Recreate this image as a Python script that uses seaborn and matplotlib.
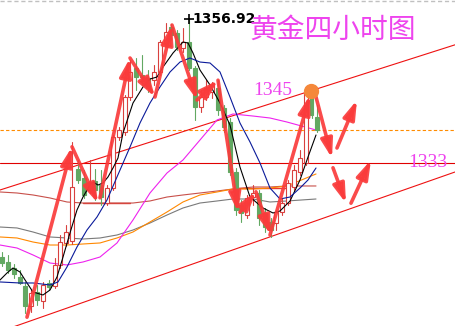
import matplotlib
matplotlib.use("Agg")
import matplotlib.pyplot as plt
from matplotlib.patches import Rectangle, FancyArrowPatch, ArrowStyle
import seaborn as sns
import pandas as pd

# ---- 4-hour gold candles (price) ----
opens = [1317.3, 1316.5, 1315.5, 1314.0, 1312.5, 1309.2, 1311.5, 1310.0, 1313.0, 1312.5,
         1316.0, 1319.7, 1320.0, 1332.0, 1330.5, 1328.5, 1330.0, 1329.3, 1326.3, 1328.8,
         1337.3, 1338.2, 1344.0, 1348.8, 1347.7, 1347.2, 1346.8, 1348.2, 1353.0, 1355.7,
         1354.7, 1352.2, 1353.2, 1348.8, 1342.3, 1344.0, 1344.8, 1345.5, 1342.2, 1339.8,
         1331.5, 1326.0, 1324.3, 1327.3, 1328.0, 1324.7, 1323.2, 1323.0, 1324.8, 1326.3,
         1329.0, 1331.5, 1333.0, 1344.0, 1340.7]
highs = [1318.2, 1317.7, 1316.2, 1315.2, 1313.2, 1311.8, 1312.7, 1313.2, 1313.5, 1317.2,
         1321.0, 1322.7, 1336.5, 1333.5, 1331.8, 1333.5, 1332.0, 1331.8, 1329.3, 1337.7,
         1339.0, 1344.3, 1350.2, 1350.5, 1351.0, 1348.5, 1349.3, 1353.5, 1356.3, 1356.2,
         1355.2, 1355.5, 1356.92, 1349.2, 1345.2, 1346.8, 1346.5, 1346.8, 1342.7, 1340.5,
         1332.2, 1326.8, 1327.7, 1329.3, 1328.5, 1325.5, 1323.8, 1325.2, 1327.2, 1330.2,
         1332.7, 1335.2, 1345.3, 1344.8, 1342.7]
lows = [1315.8, 1314.7, 1313.8, 1312.8, 1308.0, 1308.2, 1309.3, 1308.8, 1311.8, 1312.2,
        1315.5, 1319.2, 1319.5, 1329.7, 1327.2, 1328.0, 1326.8, 1326.0, 1326.0, 1328.5,
        1336.8, 1337.7, 1343.5, 1345.2, 1346.0, 1344.8, 1346.0, 1347.7, 1352.7, 1353.5,
        1351.8, 1351.5, 1348.5, 1340.2, 1341.5, 1343.5, 1343.8, 1341.0, 1338.2, 1331.0,
        1324.3, 1323.2, 1323.8, 1326.0, 1322.7, 1321.5, 1320.7, 1321.8, 1324.3, 1326.0,
        1328.5, 1331.0, 1332.7, 1340.5, 1338.2]
closes = [1316.3, 1315.2, 1314.5, 1313.0, 1309.2, 1311.3, 1310.2, 1312.7, 1312.3, 1316.0,
          1319.8, 1321.5, 1329.0, 1330.2, 1327.7, 1329.7, 1328.5, 1327.3, 1328.8, 1337.3,
          1338.5, 1344.0, 1348.2, 1347.3, 1347.3, 1345.5, 1348.2, 1353.2, 1354.8, 1354.3,
          1352.3, 1353.2, 1348.8, 1342.3, 1344.0, 1345.5, 1346.0, 1341.8, 1339.0, 1331.5,
          1325.2, 1324.7, 1327.2, 1328.0, 1323.8, 1322.3, 1321.8, 1324.8, 1326.3, 1329.7,
          1331.8, 1333.8, 1344.8, 1341.0, 1338.5]

# ---- moving averages (bar position, price) ----
ma_fast_x = [-0.34, 0.86, 1.88, 3.08, 4.28, 5.31, 7.02, 8.22, 9.42, 10.45, 11.64, 12.84,
             13.87, 15.07, 15.58, 16.44, 17.29, 18.15, 19.01, 19.86, 20.72, 22.43, 24.14,
             25.34, 26.54, 27.57, 29.28, 30.99, 31.85, 32.71, 33.90, 35.62, 37.33, 39.04,
             40.75, 42.47, 44.69, 46.40, 47.60, 49.32, 51.03, 52.40, 53.77]
ma_fast_y = [1313.5, 1314.67, 1315.5, 1314.83, 1313.0, 1311.5, 1311.0, 1311.83, 1314.0,
             1317.33, 1321.33, 1325.17, 1327.33, 1329.33, 1329.83, 1329.33, 1329.67, 1330.67,
             1332.17, 1333.83, 1338.0, 1343.0, 1345.67, 1347.0, 1347.33, 1349.0, 1351.33,
             1353.17, 1353.0, 1351.33, 1348.5, 1346.0, 1343.0, 1339.33, 1332.33, 1327.33,
             1325.5, 1324.67, 1325.0, 1326.67, 1330.17, 1334.0, 1337.67]

ma_mid_x = [-0.34, 3.08, 5.31, 8.22, 9.59, 11.13, 12.84, 14.55, 16.27, 17.98, 19.69, 21.92,
            23.63, 25.34, 27.05, 28.77, 30.48, 32.19, 33.90, 35.62, 37.33, 39.04, 40.75,
            42.47, 44.18, 45.89, 47.60, 49.32, 51.03, 52.40, 53.77]
ma_mid_y = [1313.17, 1313.0, 1313.0, 1312.67, 1313.17, 1315.67, 1319.0, 1321.83, 1324.0,
            1326.83, 1330.67, 1335.67, 1339.67, 1343.0, 1345.67, 1348.17, 1349.83, 1350.5,
            1349.83, 1349.67, 1348.17, 1344.0, 1339.67, 1336.5, 1333.0, 1328.83, 1327.0,
            1327.33, 1328.83, 1330.17, 1332.17]

slow_x = [-0.34, 2.57, 5.31, 8.22, 11.13, 13.87, 16.78, 19.69, 22.43, 25.34, 28.25, 30.99,
          33.90, 36.82, 39.55, 42.98, 45.89, 48.80, 53.77]
ma_magenta = [1319.33, 1318.83, 1317.67, 1316.33, 1316.0, 1316.5, 1317.33, 1319.67, 1323.5,
              1328.0, 1331.33, 1333.5, 1336.83, 1340.17, 1341.17, 1340.83, 1340.5, 1339.83,
              1338.5]
ma_orange = [1320.67, 1320.5, 1319.83, 1319.33, 1319.33, 1319.5, 1319.67, 1320.5, 1321.5,
             1323.17, 1324.83, 1326.5, 1327.67, 1328.17, 1328.67, 1328.67, 1328.83, 1329.17,
             1331.17]
ma_gray = [1322.33, 1322.17, 1321.5, 1320.67, 1320.5, 1320.33, 1320.5, 1321.0, 1321.83,
           1323.0, 1324.33, 1325.5, 1326.33, 1326.67, 1327.0, 1327.0, 1326.5, 1326.67, 1327.0]
ma_brown = [1328.17, 1328.0, 1327.67, 1327.17, 1326.5, 1326.33, 1326.33, 1326.33, 1326.33,
            1326.67, 1327.33, 1327.67, 1328.0, 1328.33, 1328.67, 1329.0, 1329.0, 1329.17,
            1329.17]

# ---- levels and trend channel ----
key_level = 1333
dashed_level = 1338.5
resistance = 1345
peak_high = 1356.92
support_segments = [(13.87, 21.92, 1326.33), (40.24, 48.97, 1328.83)]
channel_x = [-0.34, 77.57]
channel_upper = [1328.5, 1352.7]
channel_lower = [1304.9, 1331.5]

# ---- wave arrows: (bar0, price0, bar1, price1) ----
arrows = [
    (4.28, 1307.3, 11.99, 1335.7), (11.99, 1335.7, 16.44, 1326.3),
    (16.78, 1327.2, 21.92, 1350.5), (21.92, 1350.5, 26.2, 1344.0),
    (26.2, 1344.0, 29.11, 1356.0), (29.11, 1356.0, 33.39, 1343.5),
    (33.39, 1343.5, 36.99, 1346.8), (36.99, 1346.8, 40.41, 1324.8),
    (40.75, 1324.8, 43.49, 1328.2), (43.49, 1328.2, 46.06, 1321.0),
    (45.89, 1321.0, 52.74, 1344.3), (53.77, 1344.0, 56.51, 1333.8),
    (57.36, 1335.5, 60.79, 1343.5), (56.68, 1332.2, 58.9, 1326.3),
    (59.76, 1326.3, 63.18, 1333.5),
]

title = "黄金四小时图"

sns.set_theme(style="white")
plt.rcParams["font.family"] = ["Noto Sans CJK SC", "DejaVu Sans"]

fig = plt.figure(figsize=(4.55, 3.26), dpi=100)
ax = fig.add_axes([0, 0, 1, 1])
ax.set_xlim(-0.342, 77.57)
ax.set_ylim(1305.83, 1360.17)
ax.axis("off")

RED = "#d9413f"
GREEN = "#62a862"
body_w = 0.68
LW = 0.8

# horizontal levels and channel
ax.axhline(key_level, color="#e00000", lw=LW, zorder=1)
ax.axhline(dashed_level, color="#ff8c00", lw=LW, ls=(0, (3, 2)), zorder=1)
ax.plot(channel_x, channel_upper, color="#ee1111", lw=LW, zorder=1)
ax.plot(channel_x, channel_lower, color="#ee1111", lw=LW, zorder=1)
for x0, x1, lvl in support_segments:
    ax.plot([x0, x1], [lvl, lvl], color="#e83a30", lw=1.0, zorder=2)

# moving averages
sns.lineplot(x=slow_x, y=ma_brown, ax=ax, color="#c8504a", lw=LW, sort=False, estimator=None, zorder=2)
sns.lineplot(x=slow_x, y=ma_gray, ax=ax, color="#7a7a7a", lw=LW, sort=False, estimator=None, zorder=2)
sns.lineplot(x=slow_x, y=ma_orange, ax=ax, color="#ff8800", lw=LW, sort=False, estimator=None, zorder=2)
sns.lineplot(x=slow_x, y=ma_magenta, ax=ax, color="#ee22ee", lw=LW, sort=False, estimator=None, zorder=2)

# candles
for i, (o, h, l, c) in enumerate(zip(opens, highs, lows, closes)):
    up = c >= o
    col = RED if up else GREEN
    ax.plot([i, i], [l, h], color=col, lw=0.8, zorder=3)
    lo, hi = min(o, c), max(o, c)
    rect = Rectangle((i - body_w / 2, lo), body_w, max(hi - lo, 0.12),
                     facecolor="white" if up else GREEN, edgecolor=col, lw=0.8, zorder=4)
    ax.add_patch(rect)

sns.lineplot(x=ma_fast_x, y=ma_fast_y, ax=ax, color="black", lw=LW, sort=False, estimator=None, zorder=5)
sns.lineplot(x=ma_mid_x, y=ma_mid_y, ax=ax, color="#0a1a9a", lw=LW, sort=False, estimator=None, zorder=5)

# wave arrows
style = ArrowStyle("-|>", head_length=0.8, head_width=0.25)
for x0, y0, x1, y1 in arrows:
    ax.add_patch(FancyArrowPatch((x0, y0), (x1, y1), arrowstyle=style, mutation_scale=14,
                                 color="#fa3b3b", lw=2.6, alpha=0.92, shrinkA=0, shrinkB=0,
                                 zorder=6))

# resistance marker at the latest peak
peak_bar = 52
ax.plot(peak_bar + 0.9, resistance, "o", color="#f5883a", ms=10, zorder=7)

# high-price annotation
ax.plot(32, peak_high, "+", color="black", ms=7, mew=1.2, zorder=7)
ax.text(32.6, peak_high, f"{peak_high:.2f}", fontsize=10, fontweight="bold", color="black",
        family=["DejaVu Sans"], va="center", ha="left", zorder=7)

# labels
ax.text(42.4, 1355.2, title, fontsize=20, fontweight="light", color="#ee44ee",
        va="center", ha="left", zorder=7)
ax.text(43.0, resistance + 0.1, str(resistance), fontsize=14, color="#ee44ee",
        family=["Liberation Serif"], va="center", ha="left", zorder=7)
ax.text(69.5, key_level + 0.1, str(key_level), fontsize=14, color="#ee44ee",
        family=["Liberation Serif"], va="center", ha="left", zorder=7)

# dashed frame edge at the top
ax.plot([0, 1], [0.996, 0.996], transform=ax.transAxes, color="#c0c0c0", lw=1.0,
        ls=(0, (3, 2)), zorder=1)

fig.savefig("out.png", dpi=100, facecolor="white")
